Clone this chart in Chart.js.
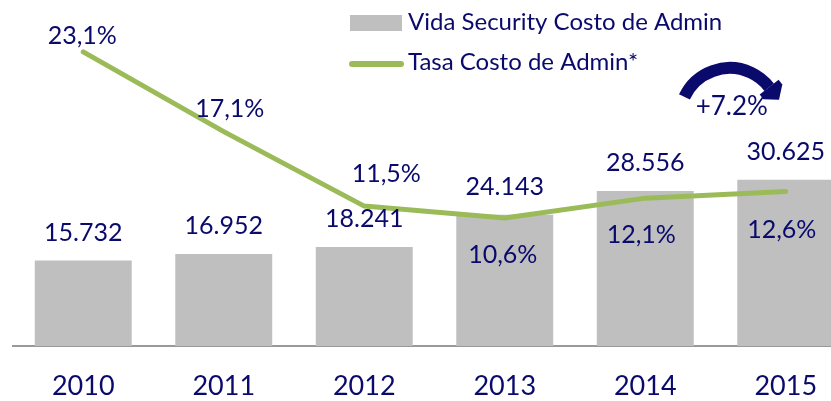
<!DOCTYPE html>
<html>
<head>
<meta charset="utf-8">
<script src="https://cdn.jsdelivr.net/npm/chart.js@4.4.1/dist/chart.umd.min.js"></script>
<style>
  html, body { margin: 0; padding: 0; background: #fff; overflow: hidden; }
  #wrap { width: 870px; height: 401px; position: relative; }
</style>
</head>
<body>
<div id="wrap"><canvas id="costChart"></canvas></div>
<script>
// Data
const years = ['2010', '2011', '2012', '2013', '2014', '2015'];
const costoAdmin = [15732, 16952, 18241, 24143, 28556, 30625];
const tasaCosto = [23.1, 17.1, 11.5, 10.6, 12.1, 12.6];
const barLabel = 'Vida Security Costo de Admin';
const lineLabel = 'Tasa Costo de Admin*';
const growthText = '+7.2%';

// label nudges for the percentage labels (px)
const lineLabelDx = [-1, 6, 22, -2, -4, -4];
const lineLabelDy = [-16, -23, -32, 37, 37, 38];

const NAVY = '#0A0A6C';
const GREEN = '#9BBB59';
const GRAY = '#BFBFBF';
const FONT = 'Lato';

function fmtThousands(v) {
  return v.toLocaleString('de-DE');
}
function fmtPct(v) {
  return v.toFixed(1).replace('.', ',') + '%';
}

// Labels, legend and the curved arrow
const decorPlugin = {
  id: 'decor',
  afterDatasetsDraw(chart) {
    const ctx = chart.ctx;
    ctx.save();
    ctx.fillStyle = NAVY;
    ctx.textAlign = 'center';
    ctx.textBaseline = 'middle';
    ctx.font = '25px ' + FONT;

    const barMeta = chart.getDatasetMeta(0);
    barMeta.data.forEach((el, i) => {
      ctx.fillText(fmtThousands(costoAdmin[i]), el.x, el.y - 28);
    });

    const lineMeta = chart.getDatasetMeta(1);
    lineMeta.data.forEach((el, i) => {
      ctx.fillText(fmtPct(tasaCosto[i]), el.x + lineLabelDx[i], el.y + lineLabelDy[i]);
    });

    // legend
    ctx.textAlign = 'left';
    ctx.font = '24px ' + FONT;
    ctx.fillStyle = GRAY;
    ctx.fillRect(350, 15, 52, 16);
    ctx.fillStyle = NAVY;
    ctx.fillText(barLabel, 408, 22);

    ctx.strokeStyle = GREEN;
    ctx.lineWidth = 6;
    ctx.lineCap = 'round';
    ctx.beginPath();
    ctx.moveTo(352, 64);
    ctx.lineTo(401, 64);
    ctx.stroke();
    ctx.fillText(lineLabel, 408, 62);

    // curved arrow over 2014 -> 2015
    const x15 = chart.scales.x.getPixelForValue(5);
    const cx = x15 - 56, cy = 118, r = 50;
    const a0 = -155 * Math.PI / 180, a1 = -38 * Math.PI / 180;
    ctx.strokeStyle = NAVY;
    ctx.lineWidth = 12;
    ctx.lineCap = 'butt';
    ctx.beginPath();
    ctx.arc(cx, cy, r, a0, a1);
    ctx.stroke();
    const ex = cx + r * Math.cos(a1), ey = cy + r * Math.sin(a1);
    const tx = -Math.sin(a1), ty = Math.cos(a1);
    const nx = Math.cos(a1), ny = Math.sin(a1);
    ctx.fillStyle = NAVY;
    ctx.beginPath();
    ctx.moveTo(ex + nx * 12, ey + ny * 12);
    ctx.lineTo(ex + nx * 12 + tx * 6, ey + ny * 12 + ty * 6);
    ctx.lineTo(ex + tx * 16, ey + ty * 16);
    ctx.lineTo(ex - nx * 12 + tx * 6, ey - ny * 12 + ty * 6);
    ctx.lineTo(ex - nx * 12, ey - ny * 12);
    ctx.closePath();
    ctx.fill();

    ctx.textAlign = 'center';
    ctx.font = '26px ' + FONT;
    ctx.fillText(growthText, cx + 2, 107);
    ctx.restore();
  }
};

const ctx = document.getElementById('costChart').getContext('2d');
new Chart(ctx, {
  data: {
    labels: years,
    datasets: [
      {
        type: 'bar',
        label: barLabel,
        data: costoAdmin,
        backgroundColor: GRAY,
        categoryPercentage: 0.69,
        barPercentage: 1,
        yAxisID: 'y',
        order: 2
      },
      {
        type: 'line',
        label: lineLabel,
        data: tasaCosto,
        borderColor: GREEN,
        borderWidth: 5,
        borderCapStyle: 'round',
        borderJoinStyle: 'round',
        pointRadius: 0,
        tension: 0,
        yAxisID: 'y1',
        order: 1
      }
    ]
  },
  options: {
    responsive: true,
    maintainAspectRatio: false,
    animation: false,
    layout: { padding: { left: 13, right: 14, top: 0, bottom: 0 } },
    plugins: {
      legend: { display: false },
      tooltip: { enabled: false }
    },
    scales: {
      x: {
        grid: { display: false, drawTicks: false },
        border: { display: true, color: '#999999', width: 2 },
        ticks: {
          color: NAVY,
          padding: 24,
          font: { family: FONT, size: 27 }
        },
        afterFit: (axis) => { axis.height = 55; }
      },
      y: { display: false, min: 0, max: 63700 },
      y1: { display: false, min: 0.98, max: 27 }
    }
  },
  plugins: [decorPlugin]
});
</script>
</body>
</html>
